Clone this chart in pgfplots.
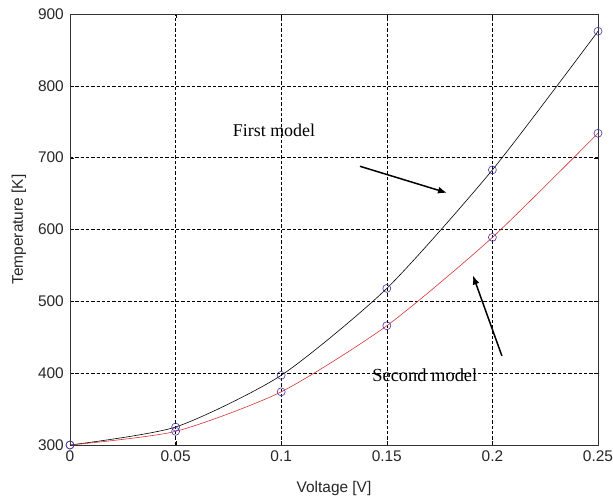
\documentclass[border=0pt]{standalone}
\usepackage{fontspec}
\setmainfont{Liberation Sans}
\newfontfamily\serifann{Liberation Serif}
\usepackage{pgfplots}
\pgfplotsset{compat=1.18}
\usetikzlibrary{arrows.meta}
\definecolor{mk}{RGB}{70,50,170}
\definecolor{redl}{RGB}{215,50,50}
\begin{document}
\begin{tikzpicture}
\begin{axis}[
  name=ax,
  scale only axis,
  width=528bp, height=431bp,
  xmin=0, xmax=0.25, ymin=300, ymax=900,
  xtick={0,0.05,0.1,0.15,0.2,0.25},
  xticklabels={0,0.05,0.1,0.15,0.2,0.25},
  ytick={300,400,500,600,700,800,900},
  yticklabels={300,400,500,600,700,800,900},
  grid=major,
  major grid style={black, dash pattern=on 3.3bp off 2bp, line width=0.55pt},
  tick align=inside,
  major tick length=4bp,
  tick style={black},
  axis line style={black!80, line width=0.8pt},
  tick label style={font=\fontsize{15.5}{17}\selectfont, text=black!85},
  xticklabel style={inner sep=0pt, yshift=-6bp},
  yticklabel style={inner sep=0pt, xshift=-6bp},
  xlabel={Voltage [V]},
  ylabel={Temperature [K]},
  every axis x label/.style={at={(axis description cs:0.5,0)}, anchor=center, yshift=-44bp, font=\fontsize{15.5}{17}\selectfont, text=black!85},
  every axis y label/.style={at={(axis description cs:0,0.5)}, xshift=-51bp, anchor=center, rotate=90, font=\fontsize{15.5}{17}\selectfont, text=black!85},
  clip=false,
]
\addplot[black, line width=0.6pt, smooth, tension=0.4] coordinates {
 (0,300) (0.05,325) (0.1,397) (0.15,518) (0.2,683) (0.25,876)};
\addplot[redl, line width=0.6pt, smooth, tension=0.4] coordinates {
 (0,300) (0.05,319) (0.1,374) (0.15,466) (0.2,589) (0.25,734)};
\addplot[only marks, mark=o, mark size=4bp, mk, mark options={line width=0.6pt}] coordinates {
 (0,300) (0.05,325) (0.1,397) (0.15,518) (0.2,683) (0.25,876)};
\addplot[only marks, mark=o, mark size=4bp, mk, mark options={line width=0.6pt}] coordinates {
 (0,300) (0.05,319) (0.1,374) (0.15,466) (0.2,589) (0.25,734)};
\node[font=\serifann\fontsize{18}{20}\selectfont] at (axis cs:0.0966,738) {First model};
\node[font=\serifann\fontsize{18.5}{20}\selectfont] at (axis cs:0.168,397) {Second model};
\draw[-{Latex[length=9bp,width=7bp]}, line width=1.5pt] (axis cs:0.1373,688) -- (axis cs:0.1785,651);
\draw[-{Latex[length=9bp,width=7bp]}, line width=1.5pt] (axis cs:0.2045,424) -- (axis cs:0.1908,536);
\end{axis}
\pgfresetboundingbox
\path (ax.south west) ++(-70bp,-52bp) rectangle ++(613bp,497bp);
\end{tikzpicture}
\end{document}
